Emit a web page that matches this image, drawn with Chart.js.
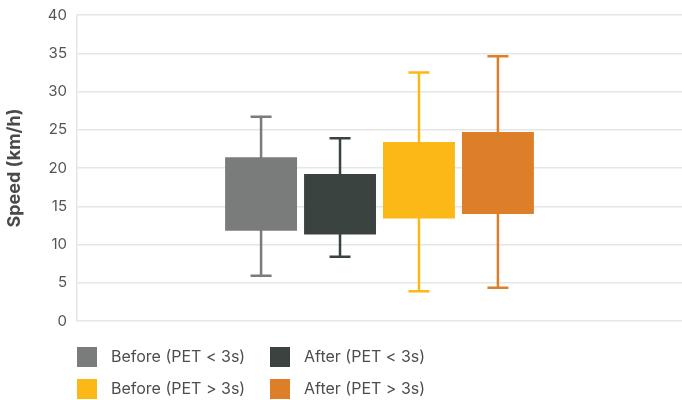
<!DOCTYPE html>
<html>
<head>
<meta charset="utf-8">
<script src="https://cdn.jsdelivr.net/npm/chart.js@4"></script>
<style>
  html, body { margin: 0; padding: 0; background: #fff; }
  #wrap { width: 682px; height: 400px; }
</style>
</head>
<body>
<div id="wrap"><canvas id="speedChart"></canvas></div>
<script>
const seriesNames = ['Before (PET < 3s)', 'After (PET < 3s)', 'Before (PET > 3s)', 'After (PET > 3s)'];
const seriesColors = ['#797c7a', '#3a4340', '#fbb817', '#dd7e29'];
const q1 = [11.8, 11.3, 13.4, 14.0];
const q3 = [21.4, 19.2, 23.4, 24.7];
const whiskerLow = [5.9, 8.4, 3.9, 4.35];
const whiskerHigh = [26.7, 23.9, 32.5, 34.6];
const yTicks = [0, 5, 10, 15, 20, 25, 30, 35, 40];

const FONT = 'Inter, Roboto, sans-serif';

// whiskers drawn from the bar elements and the y scale
const whiskerPlugin = {
  id: 'whiskers',
  beforeDatasetsDraw(chart) {
    const ctx = chart.ctx;
    const y = chart.scales.y;
    chart.data.datasets.forEach((ds, i) => {
      const bar = chart.getDatasetMeta(i).data[0];
      if (!bar) return;
      const yHi = y.getPixelForValue(whiskerHigh[i]);
      const yLo = y.getPixelForValue(whiskerLow[i]);
      ctx.save();
      ctx.strokeStyle = seriesColors[i];
      ctx.lineWidth = 2.5;
      ctx.beginPath();
      ctx.moveTo(bar.x, yHi);
      ctx.lineTo(bar.x, yLo);
      ctx.moveTo(bar.x - 10.5, yHi);
      ctx.lineTo(bar.x + 10.5, yHi);
      ctx.moveTo(bar.x - 10.5, yLo);
      ctx.lineTo(bar.x + 10.5, yLo);
      ctx.stroke();
      ctx.restore();
    });
  }
};

// 2 x 2 legend under the plot
const gridLegend = {
  id: 'gridLegend',
  afterDraw(chart) {
    const ctx = chart.ctx;
    const cols = [77, 270];
    const rows = [347, 379];
    ctx.save();
    ctx.font = '16px ' + FONT;
    ctx.textBaseline = 'middle';
    seriesNames.forEach((name, i) => {
      const x = cols[i % 2];
      const yy = rows[Math.floor(i / 2)];
      ctx.fillStyle = seriesColors[i];
      ctx.fillRect(x, yy, 20, 20);
      ctx.fillStyle = '#4a4f4c';
      ctx.fillText(name, x + 34, yy + 10);
    });
    ctx.restore();
  }
};

new Chart(document.getElementById('speedChart'), {
  type: 'bar',
  data: {
    labels: [''],
    datasets: seriesNames.map((name, i) => ({
      label: name,
      data: [[q1[i], q3[i]]],
      backgroundColor: seriesColors[i],
      borderWidth: 0,
      barPercentage: 0.911,
      categoryPercentage: 0.522
    }))
  },
  options: {
    responsive: true,
    maintainAspectRatio: false,
    animation: false,
    layout: { padding: { top: 15, bottom: 79, left: 0, right: 0 } },
    plugins: {
      legend: { display: false },
      tooltip: { enabled: false }
    },
    scales: {
      x: {
        display: false,
        grid: { display: false }
      },
      y: {
        min: 0,
        max: 40,
        afterBuildTicks: (axis) => { axis.ticks = yTicks.map(v => ({ value: v })); },
        afterFit: (axis) => {
          axis.width = 77;
          axis.paddingTop = 0;
          axis.paddingBottom = 0;
        },
        ticks: {
          color: '#555',
          padding: 10,
          font: { family: FONT, size: 15 }
        },
        grid: { color: '#e6e6e6', lineWidth: 1.5, drawTicks: false },
        border: { color: '#e6e6e6', width: 1.5 },
        title: {
          display: true,
          text: 'Speed (km/h)',
          color: '#4a4a4a',
          font: { family: FONT, size: 18, weight: 'bold' },
          padding: { top: 4, bottom: 4 }
        }
      }
    }
  },
  plugins: [whiskerPlugin, gridLegend]
});
</script>
</body>
</html>
